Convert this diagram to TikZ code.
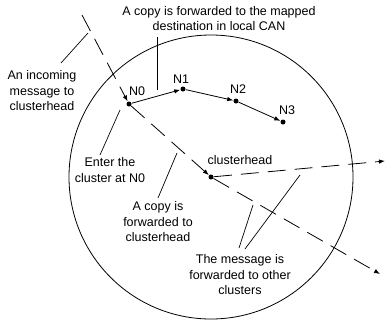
\documentclass[tikz,border=0pt]{standalone}
\usepackage{fontspec}
\setmainfont{Liberation Sans}
\usetikzlibrary{arrows.meta}
\begin{document}
\begin{tikzpicture}[x=1pt,y=-1pt,
  line width=0.8pt,
  txt/.style={font=\fontsize{12.5}{15.5}\selectfont, align=center, inner sep=0pt},
  dot/.style={circle, fill=black, inner sep=0pt, minimum size=5pt},
  dashline/.style={dash pattern=on 18pt off 9pt},
  tip/.style={-{Latex[length=6pt,width=4.5pt]}},
  leader/.style={line width=0.7pt}]
\useasboundingbox (0,0) rectangle (385,327);
% cluster circle
\draw (211,177) circle[radius=142pt];
% nodes
\node[dot] (n0) at (129,104) {};
\node[dot] (n1) at (183,89) {};
\node[dot] (n2) at (236,101) {};
\node[dot] (n3) at (283,122) {};
\node[dot] (ch) at (211,177) {};
\node[txt] (l0) at (137,91) {N0};
\node[txt] (l1) at (181,79) {N1};
\node[txt] (l2) at (238,89) {N2};
\node[txt] (l3) at (287,110) {N3};
% dashed message paths
\coordinate (in) at (82,15);
\coordinate (outr) at (385,161);
\coordinate (outd) at (380,274);
\draw[dashline,tip] (in) -- (n0);
\draw[dashline,tip] (n0) -- (ch);
\draw[dashline,tip] (ch) -- (outr);
\draw[dashline,tip] (ch) -- (outd);
% solid forwarding within local CAN
\draw[tip] (n0) -- (n1);
\draw[tip] (n1) -- (n2);
\draw[tip] (n2) -- (n3);
% labels
\node[txt] (tTop) at (219,18.5) {A copy is forwarded to the mapped\\destination in local CAN};
\node[txt] (tIn) at (42,91) {An incoming\\message to\\clusterhead};
\node[txt] (tEnter) at (110,170) {Enter the\\cluster at N0};
\node[txt] (tCopy) at (158,222) {A copy is\\forwarded to\\clusterhead};
\node[txt] (tCh) at (240,160) {clusterhead};
\node[txt] (tMsg) at (240,275) {The message is\\forwarded to other\\clusters};
% leader lines
\coordinate (a1) at (157,37); \coordinate (a2) at (157,90);
\coordinate (b1) at (61,63); \coordinate (b2) at (88,33);
\coordinate (c1) at (100,155); \coordinate (c2) at (120,110);
\coordinate (d1) at (158,198); \coordinate (d2) at (177,153);
\coordinate (e1) at (239,248); \coordinate (e2) at (253,205);
\coordinate (f1) at (245,249); \coordinate (f2) at (300,175);
\draw[leader] (a1) -- (a2);
\draw[leader] (b1) -- (b2);
\draw[leader] (c1) -- (c2);
\draw[leader] (d1) -- (d2);
\draw[leader] (e1) -- (e2);
\draw[leader] (f1) -- (f2);
\end{tikzpicture}
\end{document}
